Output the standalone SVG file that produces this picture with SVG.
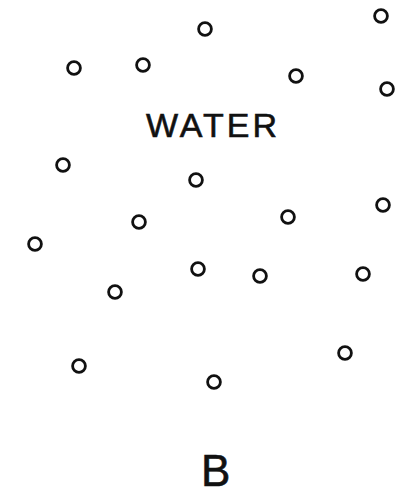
<svg xmlns="http://www.w3.org/2000/svg" width="397" height="496" viewBox="0 0 397 496">
<style>
.m{fill:none;stroke:#111;stroke-width:2.8}
.t{font-family:"Liberation Sans",Arial,sans-serif;fill:#111;stroke:#111;stroke-width:0.6}
</style>
<rect width="397" height="496" fill="#fff"/>
<g id="molecules">
<circle class="m" cx="205" cy="29" r="6.4"/>
<circle class="m" cx="381" cy="16" r="6.4"/>
<circle class="m" cx="74" cy="68" r="6.4"/>
<circle class="m" cx="143" cy="65" r="6.4"/>
<circle class="m" cx="296" cy="76" r="6.4"/>
<circle class="m" cx="387" cy="89" r="6.4"/>
<circle class="m" cx="63" cy="165" r="6.4"/>
<circle class="m" cx="196" cy="180" r="6.4"/>
<circle class="m" cx="139" cy="222" r="6.4"/>
<circle class="m" cx="35" cy="244" r="6.4"/>
<circle class="m" cx="288" cy="217" r="6.4"/>
<circle class="m" cx="383" cy="205" r="6.4"/>
<circle class="m" cx="198" cy="269" r="6.4"/>
<circle class="m" cx="260" cy="276" r="6.4"/>
<circle class="m" cx="363" cy="274" r="6.4"/>
<circle class="m" cx="115" cy="292" r="6.4"/>
<circle class="m" cx="79" cy="366" r="6.4"/>
<circle class="m" cx="345" cy="353" r="6.4"/>
<circle class="m" cx="214" cy="382" r="6.4"/>
</g>
<g id="labels">
<text class="t" x="201" y="486" font-size="44">B</text>
<text class="t" x="146" y="137" font-size="34" letter-spacing="3">WATER</text>
</g>
</svg>
